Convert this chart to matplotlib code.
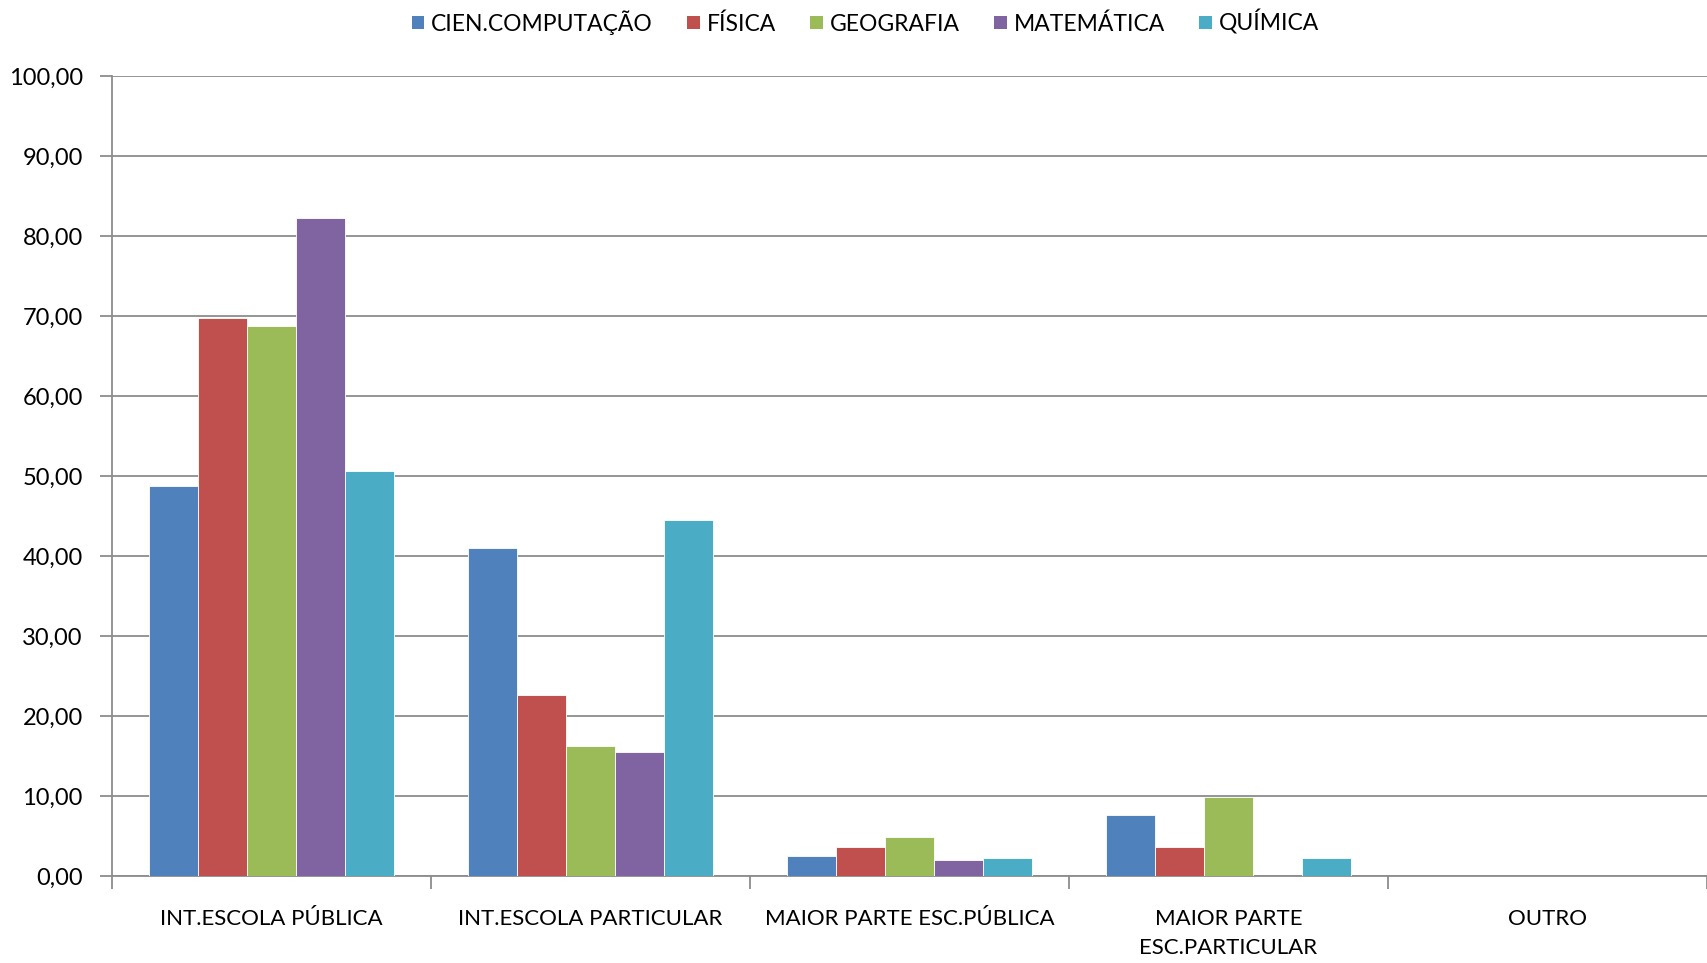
import numpy as np
from matplotlib import pyplot as plt
from matplotlib.patches import Patch

# categories and series (percent)
categories = ["INT.ESCOLA PÚBLICA", "INT.ESCOLA PARTICULAR", "MAIOR PARTE ESC.PÚBLICA",
              "MAIOR PARTE\nESC.PARTICULAR", "OUTRO"]
series_names = ["CIEN.COMPUTAÇÃO", "FÍSICA", "GEOGRAFIA", "MATEMÁTICA", "QUÍMICA"]
cien_comp = [48.7, 41.0, 2.5, 7.6, 0.0]
fisica = [69.8, 22.6, 3.6, 3.6, 0.0]
geografia = [68.7, 16.2, 4.9, 9.9, 0.0]
matematica = [82.2, 15.5, 2.0, 0.0, 0.0]
quimica = [50.6, 44.5, 2.3, 2.3, 0.0]
colors = ["#4f81bd", "#c0504d", "#9bbb59", "#8064a2", "#4bacc6"]
yticks = [0, 10, 20, 30, 40, 50, 60, 70, 80, 90, 100]

plt.rcParams['font.family'] = ['Lato', 'DejaVu Sans']

fig = plt.figure(figsize=(17.07, 9.63), dpi=100)
ax = fig.add_axes([0.0656, 0.0903, 0.9344, 0.8307])

x = np.arange(len(categories))
bar_w = 0.154
all_series = [cien_comp, fisica, geografia, matematica, quimica]
for i, vals in enumerate(all_series):
    offs = (i - 2) * bar_w
    ax.bar(x + offs, vals, width=bar_w, color=colors[i], edgecolor="white",
           linewidth=0.6, zorder=3)

ax.set_xlim(-0.5, len(categories) - 0.5)
ax.set_ylim(0, 100)
ax.set_yticks(yticks)
ax.set_yticklabels([f"{v:.2f}".replace(".", ",") for v in yticks], fontsize=17)
ax.yaxis.grid(True, color="#8c8c8c", linewidth=1.3, zorder=0)

ax.set_xticks(x)
ax.set_xticklabels(categories, fontsize=16, linespacing=1.55)
ax.tick_params(axis="x", which="major", length=0, pad=24)
ax.set_xticks(np.arange(-0.5, len(categories), 1.0), minor=True)
ax.tick_params(axis="x", which="minor", length=9, width=1.3, color="#8c8c8c", direction="out")
ax.tick_params(axis="y", length=9, width=1.3, color="#8c8c8c", direction="out", pad=12)

for s in ["top", "right"]:
    ax.spines[s].set_visible(False)
for s in ["left", "bottom"]:
    ax.spines[s].set_color("#8c8c8c")
    ax.spines[s].set_linewidth(1.3)

handles = [Patch(facecolor=c, label=n) for c, n in zip(colors, series_names)]
fig.legend(handles=handles, loc="center", bbox_to_anchor=(0.507, 0.977), ncol=5,
           frameon=False, fontsize=16.5, handlelength=0.55, handleheight=0.55,
           handletextpad=0.3, columnspacing=1.5)

fig.savefig("out.png", dpi=100)
